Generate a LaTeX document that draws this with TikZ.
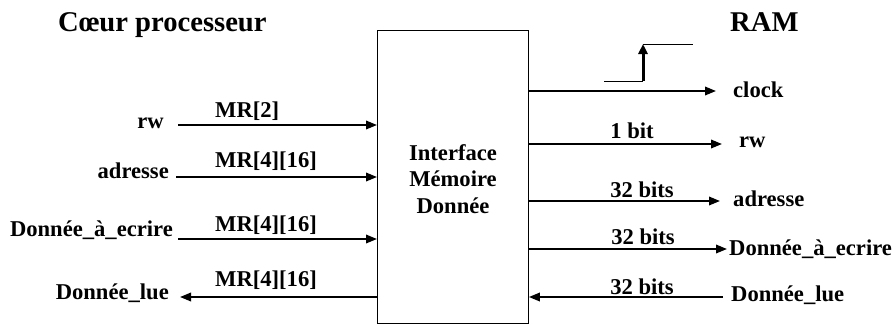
\documentclass[tikz,border=0pt]{standalone}
\usepackage{fontspec}
\setmainfont{Liberation Serif}
\usetikzlibrary{arrows.meta}
\begin{document}
\begin{tikzpicture}[x=1pt,y=-1pt,
  lbl/.style={font=\fontsize{22.6}{25}\selectfont\bfseries, inner sep=0pt},
  ttl/.style={font=\fontsize{28.6}{31}\selectfont\bfseries, inner sep=0pt},
  sig/.style={line width=1.9pt, -{Triangle[length=11pt,width=8.5pt]}},
  thin/.style={line width=1pt}]
\useasboundingbox (0,0) rectangle (895,325);
% box
\node[draw, line width=0.9pt, minimum width=151pt, minimum height=293pt, anchor=north west, inner sep=0pt] (box) at (377,30) {};
\node[lbl, anchor=base] (t1) at (453,160) {Interface};
\node[lbl, anchor=base] (t2) at (453,186) {Mémoire};
\node[lbl, anchor=base] (t3) at (453,213) {Donnée};
% titles
\node[ttl, anchor=base west] (cp) at (58,31) {Cœur processeur};
\node[ttl, anchor=base west] (ram) at (730,31) {RAM};
% left side
\node[lbl, anchor=base east] (lrw) at (164,128) {rw};
\node[lbl, anchor=base east] (ladr) at (169,178) {adresse};
\node[lbl, anchor=base east] (lde) at (173,236) {Donnée\_à\_ecrire};
\node[lbl, anchor=base east] (ldl) at (169,299) {Donnée\_lue};
\coordinate (a1) at (178,125);
\coordinate (a2) at (176,177);
\coordinate (a3) at (178,239);
\coordinate (a4) at (180,297);
\draw[sig] (a1) -- (a1 -| box.west);
\draw[sig] (a2) -- (a2 -| box.west);
\draw[sig] (a3) -- (a3 -| box.west);
\draw[sig] (a4 -| box.west) -- (a4);
\node[lbl, anchor=base west] (m1) at (215,117) {MR[2]};
\node[lbl, anchor=base west] (m2) at (215,167) {MR[4][16]};
\node[lbl, anchor=base west] (m3) at (215,231) {MR[4][16]};
\node[lbl, anchor=base west] (m4) at (215,286) {MR[4][16]};
% right side
\coordinate (b1) at (716,91);
\coordinate (b2) at (722,144);
\coordinate (b3) at (720,201);
\coordinate (b4) at (727,249);
\coordinate (b5) at (723,297);
\draw[sig] (b1 -| box.east) -- (b1);
\draw[sig] (b2 -| box.east) -- (b2);
\draw[sig] (b3 -| box.east) -- (b3);
\draw[sig] (b4 -| box.east) -- (b4);
\draw[sig] (b5) -- (b5 -| box.east);
\node[lbl, anchor=base west] (rclk) at (733,97) {clock};
\node[lbl, anchor=base west] (rrw) at (739,147) {rw};
\node[lbl, anchor=base west] (radr) at (733,206) {adresse};
\node[lbl, anchor=base west] (rde) at (729,255) {Donnée\_à\_ecrire};
\node[lbl, anchor=base west] (rdl) at (731,301) {Donnée\_lue};
\node[lbl, anchor=base] (w1) at (632,138) {1 bit};
\node[lbl, anchor=base] (w2) at (642,197) {32 bits};
\node[lbl, anchor=base] (w3) at (643,244) {32 bits};
\node[lbl, anchor=base] (w4) at (642,294) {32 bits};
% clock edge
\coordinate (c0) at (604,81);
\coordinate (c1) at (643,81);
\coordinate (c2) at (643,44);
\coordinate (c3) at (693,44);
\draw[thin] (c0) -- (c1);
\draw[line width=3pt, -{Triangle[length=10pt,width=9pt]}] (c1) -- (c2);
\draw[thin] (c2) -- (c3);
\end{tikzpicture}
\end{document}
